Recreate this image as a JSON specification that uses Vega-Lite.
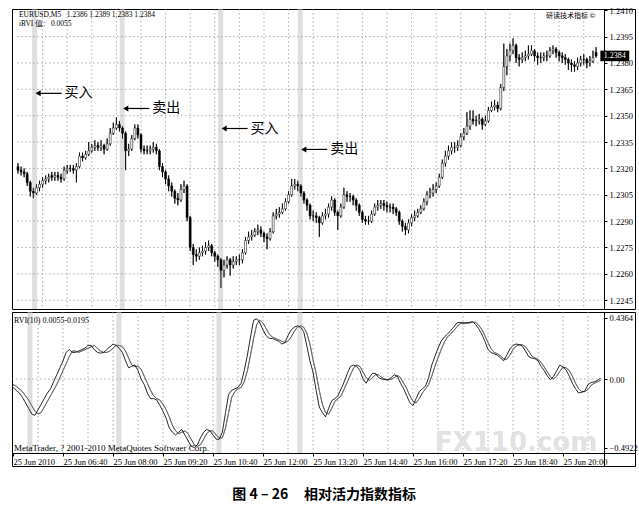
{
  "$schema": "https://vega.github.io/schema/vega-lite/v6.json",
  "padding": {"left": 10, "top": 5, "right": 4, "bottom": 4},
  "background": "white",
  "spacing": 1,
  "title": {"text": "图 4 \u2013 26\u00a0\u00a0\u00a0\u00a0\u00a0相对活力指数指标", "orient": "bottom", "anchor": "middle", "font": "Noto Sans CJK SC", "fontSize": 14, "fontWeight": "bold", "color": "black", "offset": 21},
  "config": {
    "view": {"stroke": "black", "strokeWidth": 1},
    "axis": {"labelFont": "Liberation Serif", "labelFontSize": 8.5, "labelColor": "black", "domainColor": "black", "tickColor": "black", "tickSize": 3, "labelPadding": 2, "grid": false, "labelOverlap": false}
  },
  "datasets": {
    "notes": [
      {"i": 5.4, "p": 1.23627, "label": "买入"},
      {"i": 33.9, "p": 1.23541, "label": "卖出"},
      {"i": 65.9, "p": 1.23427, "label": "买入"},
      {"i": 91.8, "p": 1.23308, "label": "卖出"}
    ],
    "pgrid": [{"p": 1.2245}, {"p": 1.2260}, {"p": 1.2275}, {"p": 1.2290}, {"p": 1.2305}, {"p": 1.2320}, {"p": 1.2335}, {"p": 1.2350}, {"p": 1.2365}, {"p": 1.2380}, {"p": 1.2395}],
    "vgrid": [{"v": 8}, {"v": 16}, {"v": 24}, {"v": 32}, {"v": 40}, {"v": 48}, {"v": 56}, {"v": 64}, {"v": 72}, {"v": 80}, {"v": 88}, {"v": 96}, {"v": 104}, {"v": 112}, {"v": 120}, {"v": 128}, {"v": 136}, {"v": 144}, {"v": 152}, {"v": 160}, {"v": 168}, {"v": 176}, {"v": 184}],
    "bars": [
      {"i": 0, "o": 1.2321, "h": 1.2323, "l": 1.2317, "c": 1.2319, "r": -0.06, "s": -0.04},
      {"i": 1, "o": 1.2319, "h": 1.2321, "l": 1.2316, "c": 1.2318, "r": -0.08, "s": -0.05},
      {"i": 2, "o": 1.2318, "h": 1.2320, "l": 1.2315, "c": 1.2317, "r": -0.10, "s": -0.07},
      {"i": 3, "o": 1.2317, "h": 1.2318, "l": 1.2310, "c": 1.2312, "r": -0.13, "s": -0.09},
      {"i": 4, "o": 1.2312, "h": 1.2313, "l": 1.2304, "c": 1.2307, "r": -0.17, "s": -0.12},
      {"i": 5, "o": 1.2307, "h": 1.2309, "l": 1.2303, "c": 1.2306, "r": -0.21, "s": -0.15},
      {"i": 6, "o": 1.2306, "h": 1.2311, "l": 1.2305, "c": 1.2309, "r": -0.25, "s": -0.19},
      {"i": 7, "o": 1.2309, "h": 1.2313, "l": 1.2307, "c": 1.2311, "r": -0.26, "s": -0.23},
      {"i": 8, "o": 1.2311, "h": 1.2315, "l": 1.2309, "c": 1.2313, "r": -0.22, "s": -0.25},
      {"i": 9, "o": 1.2313, "h": 1.2316, "l": 1.2311, "c": 1.2314, "r": -0.18, "s": -0.24},
      {"i": 10, "o": 1.2314, "h": 1.2317, "l": 1.2312, "c": 1.2315, "r": -0.14, "s": -0.20},
      {"i": 11, "o": 1.2316, "h": 1.2318, "l": 1.2313, "c": 1.2315, "r": -0.10, "s": -0.16},
      {"i": 12, "o": 1.2315, "h": 1.2318, "l": 1.2313, "c": 1.2316, "r": -0.07, "s": -0.12},
      {"i": 13, "o": 1.2316, "h": 1.2318, "l": 1.2313, "c": 1.2315, "r": -0.02, "s": -0.08},
      {"i": 14, "o": 1.2315, "h": 1.2317, "l": 1.2312, "c": 1.2314, "r": 0.03, "s": -0.04},
      {"i": 15, "o": 1.2314, "h": 1.2321, "l": 1.2313, "c": 1.2319, "r": 0.08, "s": 0.01},
      {"i": 16, "o": 1.2319, "h": 1.2322, "l": 1.2317, "c": 1.2320, "r": 0.13, "s": 0.06},
      {"i": 17, "o": 1.2320, "h": 1.2322, "l": 1.2318, "c": 1.2320, "r": 0.19, "s": 0.11},
      {"i": 18, "o": 1.2320, "h": 1.2322, "l": 1.2317, "c": 1.2319, "r": 0.21, "s": 0.16},
      {"i": 19, "o": 1.2319, "h": 1.2323, "l": 1.2312, "c": 1.2321, "r": 0.19, "s": 0.20},
      {"i": 20, "o": 1.2321, "h": 1.2329, "l": 1.2320, "c": 1.2327, "r": 0.19, "s": 0.20},
      {"i": 21, "o": 1.2327, "h": 1.2329, "l": 1.2324, "c": 1.2326, "r": 0.20, "s": 0.19},
      {"i": 22, "o": 1.2326, "h": 1.2330, "l": 1.2325, "c": 1.2328, "r": 0.21, "s": 0.20},
      {"i": 23, "o": 1.2328, "h": 1.2335, "l": 1.2327, "c": 1.2330, "r": 0.22, "s": 0.21},
      {"i": 24, "o": 1.2330, "h": 1.2334, "l": 1.2329, "c": 1.2332, "r": 0.24, "s": 0.22},
      {"i": 25, "o": 1.2332, "h": 1.2336, "l": 1.2330, "c": 1.2333, "r": 0.24, "s": 0.23},
      {"i": 26, "o": 1.2333, "h": 1.2335, "l": 1.2330, "c": 1.2332, "r": 0.21, "s": 0.24},
      {"i": 27, "o": 1.2332, "h": 1.2336, "l": 1.2330, "c": 1.2333, "r": 0.19, "s": 0.22},
      {"i": 28, "o": 1.2333, "h": 1.2334, "l": 1.2328, "c": 1.2331, "r": 0.185, "s": 0.20},
      {"i": 29, "o": 1.2331, "h": 1.2337, "l": 1.2330, "c": 1.2334, "r": 0.19, "s": 0.19},
      {"i": 30, "o": 1.2334, "h": 1.2343, "l": 1.2333, "c": 1.2340, "r": 0.21, "s": 0.19},
      {"i": 31, "o": 1.2340, "h": 1.2346, "l": 1.2339, "c": 1.2343, "r": 0.23, "s": 0.20},
      {"i": 32, "o": 1.2343, "h": 1.2349, "l": 1.2342, "c": 1.2345, "r": 0.25, "s": 0.22},
      {"i": 33, "o": 1.2345, "h": 1.2347, "l": 1.2341, "c": 1.2343, "r": 0.24, "s": 0.24},
      {"i": 34, "o": 1.2343, "h": 1.2344, "l": 1.2337, "c": 1.2340, "r": 0.22, "s": 0.24},
      {"i": 35, "o": 1.2340, "h": 1.2341, "l": 1.2319, "c": 1.2330, "r": 0.19, "s": 0.23},
      {"i": 36, "o": 1.2330, "h": 1.2334, "l": 1.2327, "c": 1.2331, "r": 0.13, "s": 0.20},
      {"i": 37, "o": 1.2331, "h": 1.2339, "l": 1.2330, "c": 1.2337, "r": 0.08, "s": 0.15},
      {"i": 38, "o": 1.2337, "h": 1.2345, "l": 1.2336, "c": 1.2343, "r": 0.09, "s": 0.10},
      {"i": 39, "o": 1.2343, "h": 1.2345, "l": 1.2337, "c": 1.2339, "r": 0.10, "s": 0.09},
      {"i": 40, "o": 1.2339, "h": 1.2340, "l": 1.2329, "c": 1.2331, "r": 0.06, "s": 0.09},
      {"i": 41, "o": 1.2331, "h": 1.2333, "l": 1.2328, "c": 1.2330, "r": 0.00, "s": 0.07},
      {"i": 42, "o": 1.2330, "h": 1.2333, "l": 1.2328, "c": 1.2330, "r": -0.04, "s": 0.02},
      {"i": 43, "o": 1.2330, "h": 1.2333, "l": 1.2328, "c": 1.2331, "r": -0.10, "s": -0.03},
      {"i": 44, "o": 1.2331, "h": 1.2335, "l": 1.2329, "c": 1.2332, "r": -0.14, "s": -0.08},
      {"i": 45, "o": 1.2332, "h": 1.2334, "l": 1.2328, "c": 1.2330, "r": -0.14, "s": -0.12},
      {"i": 46, "o": 1.2330, "h": 1.2331, "l": 1.2319, "c": 1.2321, "r": -0.15, "s": -0.14},
      {"i": 47, "o": 1.2321, "h": 1.2323, "l": 1.2315, "c": 1.2318, "r": -0.19, "s": -0.15},
      {"i": 48, "o": 1.2318, "h": 1.2319, "l": 1.2311, "c": 1.2314, "r": -0.23, "s": -0.18},
      {"i": 49, "o": 1.2314, "h": 1.2316, "l": 1.2307, "c": 1.2310, "r": -0.28, "s": -0.22},
      {"i": 50, "o": 1.2310, "h": 1.2312, "l": 1.2304, "c": 1.2307, "r": -0.35, "s": -0.27},
      {"i": 51, "o": 1.2307, "h": 1.2308, "l": 1.2300, "c": 1.2303, "r": -0.38, "s": -0.33},
      {"i": 52, "o": 1.2303, "h": 1.2306, "l": 1.2299, "c": 1.2302, "r": -0.40, "s": -0.37},
      {"i": 53, "o": 1.2302, "h": 1.2311, "l": 1.2301, "c": 1.2308, "r": -0.38, "s": -0.39},
      {"i": 54, "o": 1.2308, "h": 1.2313, "l": 1.2306, "c": 1.2310, "r": -0.36, "s": -0.38},
      {"i": 55, "o": 1.2310, "h": 1.2311, "l": 1.2290, "c": 1.2292, "r": -0.40, "s": -0.37},
      {"i": 56, "o": 1.2292, "h": 1.2293, "l": 1.2273, "c": 1.2275, "r": -0.44, "s": -0.39},
      {"i": 57, "o": 1.2275, "h": 1.2277, "l": 1.2265, "c": 1.2271, "r": -0.48, "s": -0.43},
      {"i": 58, "o": 1.2271, "h": 1.2274, "l": 1.2267, "c": 1.2270, "r": -0.49, "s": -0.47},
      {"i": 59, "o": 1.2270, "h": 1.2275, "l": 1.2268, "c": 1.2272, "r": -0.47, "s": -0.48},
      {"i": 60, "o": 1.2272, "h": 1.2276, "l": 1.2270, "c": 1.2273, "r": -0.42, "s": -0.47},
      {"i": 61, "o": 1.2273, "h": 1.2278, "l": 1.2271, "c": 1.2275, "r": -0.38, "s": -0.43},
      {"i": 62, "o": 1.2275, "h": 1.2279, "l": 1.2273, "c": 1.2276, "r": -0.36, "s": -0.39},
      {"i": 63, "o": 1.2276, "h": 1.2277, "l": 1.2270, "c": 1.2272, "r": -0.37, "s": -0.37},
      {"i": 64, "o": 1.2272, "h": 1.2273, "l": 1.2267, "c": 1.2270, "r": -0.40, "s": -0.37},
      {"i": 65, "o": 1.2270, "h": 1.2271, "l": 1.2264, "c": 1.2268, "r": -0.43, "s": -0.40},
      {"i": 66, "o": 1.2268, "h": 1.2269, "l": 1.2252, "c": 1.2262, "r": -0.43, "s": -0.42},
      {"i": 67, "o": 1.2262, "h": 1.2268, "l": 1.2258, "c": 1.2265, "r": -0.38, "s": -0.42},
      {"i": 68, "o": 1.2265, "h": 1.2270, "l": 1.2263, "c": 1.2268, "r": -0.24, "s": -0.35},
      {"i": 69, "o": 1.2268, "h": 1.2269, "l": 1.2259, "c": 1.2265, "r": -0.11, "s": -0.24},
      {"i": 70, "o": 1.2265, "h": 1.2270, "l": 1.2263, "c": 1.2267, "r": -0.08, "s": -0.13},
      {"i": 71, "o": 1.2267, "h": 1.2270, "l": 1.2265, "c": 1.2268, "r": -0.07, "s": -0.09},
      {"i": 72, "o": 1.2268, "h": 1.2271, "l": 1.2265, "c": 1.2268, "r": -0.06, "s": -0.07},
      {"i": 73, "o": 1.2268, "h": 1.2274, "l": 1.2266, "c": 1.2272, "r": -0.03, "s": -0.06},
      {"i": 74, "o": 1.2272, "h": 1.2281, "l": 1.2271, "c": 1.2279, "r": 0.06, "s": -0.02},
      {"i": 75, "o": 1.2279, "h": 1.2284, "l": 1.2277, "c": 1.2281, "r": 0.17, "s": 0.06},
      {"i": 76, "o": 1.2281, "h": 1.2285, "l": 1.2279, "c": 1.2282, "r": 0.30, "s": 0.17},
      {"i": 77, "o": 1.2282, "h": 1.2286, "l": 1.2281, "c": 1.2284, "r": 0.42, "s": 0.29},
      {"i": 78, "o": 1.2284, "h": 1.2288, "l": 1.2282, "c": 1.2285, "r": 0.43, "s": 0.39},
      {"i": 79, "o": 1.2285, "h": 1.2287, "l": 1.2281, "c": 1.2283, "r": 0.40, "s": 0.42},
      {"i": 80, "o": 1.2283, "h": 1.2284, "l": 1.2278, "c": 1.2281, "r": 0.35, "s": 0.40},
      {"i": 81, "o": 1.2281, "h": 1.2283, "l": 1.2274, "c": 1.2280, "r": 0.31, "s": 0.36},
      {"i": 82, "o": 1.2280, "h": 1.2286, "l": 1.2279, "c": 1.2284, "r": 0.29, "s": 0.32},
      {"i": 83, "o": 1.2284, "h": 1.2295, "l": 1.2283, "c": 1.2293, "r": 0.29, "s": 0.30},
      {"i": 84, "o": 1.2293, "h": 1.2297, "l": 1.2291, "c": 1.2294, "r": 0.28, "s": 0.29},
      {"i": 85, "o": 1.2294, "h": 1.2298, "l": 1.2292, "c": 1.2295, "r": 0.27, "s": 0.28},
      {"i": 86, "o": 1.2295, "h": 1.2300, "l": 1.2294, "c": 1.2297, "r": 0.25, "s": 0.27},
      {"i": 87, "o": 1.2297, "h": 1.2303, "l": 1.2296, "c": 1.2301, "r": 0.26, "s": 0.26},
      {"i": 88, "o": 1.2301, "h": 1.2307, "l": 1.2300, "c": 1.2305, "r": 0.31, "s": 0.27},
      {"i": 89, "o": 1.2305, "h": 1.2314, "l": 1.2304, "c": 1.2310, "r": 0.35, "s": 0.30},
      {"i": 90, "o": 1.2310, "h": 1.2314, "l": 1.2308, "c": 1.2311, "r": 0.37, "s": 0.34},
      {"i": 91, "o": 1.2311, "h": 1.2313, "l": 1.2307, "c": 1.2310, "r": 0.38, "s": 0.37},
      {"i": 92, "o": 1.2310, "h": 1.2311, "l": 1.2304, "c": 1.2306, "r": 0.37, "s": 0.38},
      {"i": 93, "o": 1.2306, "h": 1.2307, "l": 1.2300, "c": 1.2302, "r": 0.34, "s": 0.37},
      {"i": 94, "o": 1.2302, "h": 1.2303, "l": 1.2296, "c": 1.2299, "r": 0.24, "s": 0.33},
      {"i": 95, "o": 1.2299, "h": 1.2300, "l": 1.2291, "c": 1.2293, "r": 0.13, "s": 0.25},
      {"i": 96, "o": 1.2293, "h": 1.2296, "l": 1.2290, "c": 1.2293, "r": 0.05, "s": 0.14},
      {"i": 97, "o": 1.2293, "h": 1.2295, "l": 1.2289, "c": 1.2292, "r": -0.08, "s": 0.04},
      {"i": 98, "o": 1.2292, "h": 1.2293, "l": 1.2281, "c": 1.2289, "r": -0.20, "s": -0.08},
      {"i": 99, "o": 1.2289, "h": 1.2295, "l": 1.2288, "c": 1.2293, "r": -0.24, "s": -0.18},
      {"i": 100, "o": 1.2293, "h": 1.2297, "l": 1.2291, "c": 1.2294, "r": -0.27, "s": -0.24},
      {"i": 101, "o": 1.2294, "h": 1.2300, "l": 1.2292, "c": 1.2298, "r": -0.21, "s": -0.25},
      {"i": 102, "o": 1.2298, "h": 1.2304, "l": 1.2296, "c": 1.2302, "r": -0.155, "s": -0.21},
      {"i": 103, "o": 1.2302, "h": 1.2303, "l": 1.2293, "c": 1.2295, "r": -0.14, "s": -0.16},
      {"i": 104, "o": 1.2295, "h": 1.2296, "l": 1.2285, "c": 1.2293, "r": -0.12, "s": -0.14},
      {"i": 105, "o": 1.2293, "h": 1.2300, "l": 1.2292, "c": 1.2298, "r": -0.07, "s": -0.12},
      {"i": 106, "o": 1.2298, "h": 1.2309, "l": 1.2297, "c": 1.2305, "r": -0.02, "s": -0.07},
      {"i": 107, "o": 1.2305, "h": 1.2307, "l": 1.2301, "c": 1.2304, "r": 0.04, "s": -0.02},
      {"i": 108, "o": 1.2304, "h": 1.2306, "l": 1.2301, "c": 1.2304, "r": 0.09, "s": 0.03},
      {"i": 109, "o": 1.2304, "h": 1.2305, "l": 1.2299, "c": 1.2302, "r": 0.10, "s": 0.08},
      {"i": 110, "o": 1.2302, "h": 1.2303, "l": 1.2296, "c": 1.2299, "r": 0.09, "s": 0.10},
      {"i": 111, "o": 1.2299, "h": 1.2300, "l": 1.2293, "c": 1.2295, "r": 0.06, "s": 0.09},
      {"i": 112, "o": 1.2295, "h": 1.2296, "l": 1.2289, "c": 1.2291, "r": 0.00, "s": 0.05},
      {"i": 113, "o": 1.2291, "h": 1.2293, "l": 1.2288, "c": 1.2290, "r": -0.03, "s": 0.01},
      {"i": 114, "o": 1.2290, "h": 1.2293, "l": 1.2288, "c": 1.2290, "r": 0.01, "s": -0.01},
      {"i": 115, "o": 1.2290, "h": 1.2296, "l": 1.2289, "c": 1.2294, "r": 0.04, "s": 0.01},
      {"i": 116, "o": 1.2294, "h": 1.2300, "l": 1.2293, "c": 1.2298, "r": 0.04, "s": 0.03},
      {"i": 117, "o": 1.2298, "h": 1.2302, "l": 1.2296, "c": 1.2299, "r": 0.01, "s": 0.03},
      {"i": 118, "o": 1.2299, "h": 1.2302, "l": 1.2297, "c": 1.2300, "r": 0.00, "s": 0.01},
      {"i": 119, "o": 1.2300, "h": 1.2302, "l": 1.2296, "c": 1.2299, "r": -0.005, "s": 0.00},
      {"i": 120, "o": 1.2299, "h": 1.2301, "l": 1.2295, "c": 1.2298, "r": -0.007, "s": -0.005},
      {"i": 121, "o": 1.2298, "h": 1.2300, "l": 1.2295, "c": 1.2298, "r": 0.01, "s": -0.002},
      {"i": 122, "o": 1.2298, "h": 1.2300, "l": 1.2294, "c": 1.2297, "r": 0.03, "s": 0.01},
      {"i": 123, "o": 1.2297, "h": 1.2298, "l": 1.2293, "c": 1.2295, "r": 0.02, "s": 0.025},
      {"i": 124, "o": 1.2295, "h": 1.2296, "l": 1.2288, "c": 1.2290, "r": -0.03, "s": 0.01},
      {"i": 125, "o": 1.2290, "h": 1.2291, "l": 1.2284, "c": 1.2287, "r": -0.07, "s": -0.03},
      {"i": 126, "o": 1.2287, "h": 1.2289, "l": 1.2282, "c": 1.2285, "r": -0.12, "s": -0.07},
      {"i": 127, "o": 1.2285, "h": 1.2291, "l": 1.2283, "c": 1.2289, "r": -0.17, "s": -0.12},
      {"i": 128, "o": 1.2289, "h": 1.2294, "l": 1.2287, "c": 1.2292, "r": -0.19, "s": -0.16},
      {"i": 129, "o": 1.2292, "h": 1.2296, "l": 1.2290, "c": 1.2293, "r": -0.14, "s": -0.17},
      {"i": 130, "o": 1.2293, "h": 1.2297, "l": 1.2292, "c": 1.2295, "r": -0.09, "s": -0.14},
      {"i": 131, "o": 1.2295, "h": 1.2299, "l": 1.2294, "c": 1.2297, "r": -0.07, "s": -0.10},
      {"i": 132, "o": 1.2297, "h": 1.2303, "l": 1.2296, "c": 1.2301, "r": -0.05, "s": -0.07},
      {"i": 133, "o": 1.2301, "h": 1.2307, "l": 1.2299, "c": 1.2305, "r": 0.01, "s": -0.04},
      {"i": 134, "o": 1.2305, "h": 1.2309, "l": 1.2303, "c": 1.2306, "r": 0.10, "s": 0.02},
      {"i": 135, "o": 1.2306, "h": 1.2311, "l": 1.2304, "c": 1.2308, "r": 0.16, "s": 0.09},
      {"i": 136, "o": 1.2308, "h": 1.2312, "l": 1.2306, "c": 1.2310, "r": 0.22, "s": 0.15},
      {"i": 137, "o": 1.2310, "h": 1.2317, "l": 1.2309, "c": 1.2315, "r": 0.27, "s": 0.21},
      {"i": 138, "o": 1.2315, "h": 1.2325, "l": 1.2314, "c": 1.2323, "r": 0.30, "s": 0.26},
      {"i": 139, "o": 1.2323, "h": 1.2330, "l": 1.2321, "c": 1.2327, "r": 0.32, "s": 0.30},
      {"i": 140, "o": 1.2327, "h": 1.2333, "l": 1.2325, "c": 1.2330, "r": 0.345, "s": 0.32},
      {"i": 141, "o": 1.2330, "h": 1.2335, "l": 1.2328, "c": 1.2332, "r": 0.37, "s": 0.345},
      {"i": 142, "o": 1.2332, "h": 1.2335, "l": 1.2329, "c": 1.2332, "r": 0.40, "s": 0.37},
      {"i": 143, "o": 1.2332, "h": 1.2336, "l": 1.2330, "c": 1.2333, "r": 0.405, "s": 0.395},
      {"i": 144, "o": 1.2333, "h": 1.2340, "l": 1.2332, "c": 1.2338, "r": 0.40, "s": 0.40},
      {"i": 145, "o": 1.2338, "h": 1.2343, "l": 1.2336, "c": 1.2340, "r": 0.40, "s": 0.40},
      {"i": 146, "o": 1.2340, "h": 1.2352, "l": 1.2339, "c": 1.2344, "r": 0.405, "s": 0.40},
      {"i": 147, "o": 1.2344, "h": 1.2353, "l": 1.2342, "c": 1.2348, "r": 0.41, "s": 0.405},
      {"i": 148, "o": 1.2348, "h": 1.2353, "l": 1.2345, "c": 1.2347, "r": 0.39, "s": 0.405},
      {"i": 149, "o": 1.2347, "h": 1.2350, "l": 1.2344, "c": 1.2347, "r": 0.36, "s": 0.385},
      {"i": 150, "o": 1.2347, "h": 1.2351, "l": 1.2345, "c": 1.2348, "r": 0.32, "s": 0.355},
      {"i": 151, "o": 1.2348, "h": 1.2349, "l": 1.2342, "c": 1.2345, "r": 0.27, "s": 0.31},
      {"i": 152, "o": 1.2345, "h": 1.2350, "l": 1.2344, "c": 1.2347, "r": 0.21, "s": 0.26},
      {"i": 153, "o": 1.2347, "h": 1.2355, "l": 1.2346, "c": 1.2353, "r": 0.19, "s": 0.215},
      {"i": 154, "o": 1.2353, "h": 1.2358, "l": 1.2352, "c": 1.2355, "r": 0.18, "s": 0.19},
      {"i": 155, "o": 1.2355, "h": 1.2359, "l": 1.2353, "c": 1.2356, "r": 0.17, "s": 0.18},
      {"i": 156, "o": 1.2356, "h": 1.2358, "l": 1.2352, "c": 1.2354, "r": 0.15, "s": 0.165},
      {"i": 157, "o": 1.2354, "h": 1.2368, "l": 1.2353, "c": 1.2366, "r": 0.13, "s": 0.145},
      {"i": 158, "o": 1.2366, "h": 1.2391, "l": 1.2364, "c": 1.2378, "r": 0.17, "s": 0.14},
      {"i": 159, "o": 1.2378, "h": 1.2388, "l": 1.2373, "c": 1.2384, "r": 0.215, "s": 0.17},
      {"i": 160, "o": 1.2384, "h": 1.2391, "l": 1.2381, "c": 1.2387, "r": 0.24, "s": 0.21},
      {"i": 161, "o": 1.2387, "h": 1.2394, "l": 1.2385, "c": 1.2390, "r": 0.25, "s": 0.235},
      {"i": 162, "o": 1.2390, "h": 1.2391, "l": 1.2380, "c": 1.2383, "r": 0.245, "s": 0.245},
      {"i": 163, "o": 1.2383, "h": 1.2385, "l": 1.2378, "c": 1.2382, "r": 0.235, "s": 0.245},
      {"i": 164, "o": 1.2382, "h": 1.2386, "l": 1.2380, "c": 1.2383, "r": 0.20, "s": 0.23},
      {"i": 165, "o": 1.2383, "h": 1.2387, "l": 1.2381, "c": 1.2384, "r": 0.16, "s": 0.20},
      {"i": 166, "o": 1.2384, "h": 1.2390, "l": 1.2382, "c": 1.2385, "r": 0.15, "s": 0.165},
      {"i": 167, "o": 1.2385, "h": 1.2390, "l": 1.2384, "c": 1.2387, "r": 0.145, "s": 0.15},
      {"i": 168, "o": 1.2387, "h": 1.2388, "l": 1.2381, "c": 1.2384, "r": 0.13, "s": 0.14},
      {"i": 169, "o": 1.2384, "h": 1.2386, "l": 1.2379, "c": 1.2383, "r": 0.09, "s": 0.12},
      {"i": 170, "o": 1.2383, "h": 1.2386, "l": 1.2380, "c": 1.2383, "r": 0.06, "s": 0.085},
      {"i": 171, "o": 1.2383, "h": 1.2386, "l": 1.2381, "c": 1.2384, "r": 0.02, "s": 0.05},
      {"i": 172, "o": 1.2384, "h": 1.2387, "l": 1.2381, "c": 1.2384, "r": -0.005, "s": 0.015},
      {"i": 173, "o": 1.2384, "h": 1.2389, "l": 1.2383, "c": 1.2387, "r": 0.02, "s": 0.00},
      {"i": 174, "o": 1.2387, "h": 1.2390, "l": 1.2385, "c": 1.2388, "r": 0.06, "s": 0.02},
      {"i": 175, "o": 1.2388, "h": 1.2389, "l": 1.2383, "c": 1.2386, "r": 0.10, "s": 0.055},
      {"i": 176, "o": 1.2386, "h": 1.2387, "l": 1.2381, "c": 1.2384, "r": 0.085, "s": 0.085},
      {"i": 177, "o": 1.2384, "h": 1.2386, "l": 1.2380, "c": 1.2383, "r": 0.065, "s": 0.08},
      {"i": 178, "o": 1.2383, "h": 1.2385, "l": 1.2379, "c": 1.2382, "r": 0.02, "s": 0.06},
      {"i": 179, "o": 1.2382, "h": 1.2383, "l": 1.2376, "c": 1.2380, "r": -0.03, "s": 0.02},
      {"i": 180, "o": 1.2380, "h": 1.2382, "l": 1.2375, "c": 1.2379, "r": -0.07, "s": -0.03},
      {"i": 181, "o": 1.2379, "h": 1.2381, "l": 1.2375, "c": 1.2378, "r": -0.10, "s": -0.07},
      {"i": 182, "o": 1.2378, "h": 1.2383, "l": 1.2376, "c": 1.2380, "r": -0.095, "s": -0.09},
      {"i": 183, "o": 1.2380, "h": 1.2384, "l": 1.2378, "c": 1.2382, "r": -0.085, "s": -0.09},
      {"i": 184, "o": 1.2382, "h": 1.2385, "l": 1.2379, "c": 1.2382, "r": -0.04, "s": -0.075},
      {"i": 185, "o": 1.2382, "h": 1.2383, "l": 1.2377, "c": 1.2380, "r": -0.025, "s": -0.045},
      {"i": 186, "o": 1.2380, "h": 1.2384, "l": 1.2378, "c": 1.2381, "r": -0.02, "s": -0.03},
      {"i": 187, "o": 1.2381, "h": 1.2387, "l": 1.2380, "c": 1.2383, "r": -0.01, "s": -0.02},
      {"i": 188, "o": 1.2386, "h": 1.2389, "l": 1.2383, "c": 1.2384, "r": 0.0055, "s": -0.01}
    ]
  },
  "vconcat": [
    {
      "width": 623,
      "height": 300,
      "layer": [
        {
          "data": {"name": "bars"},
          "mark": {"type": "rule", "color": "black", "strokeWidth": 0.8},
          "encoding": {
            "x": {"field": "i", "type": "quantitative", "scale": {"domain": [-0.32, 199.04], "nice": false, "zero": false}, "axis": null},
            "y": {
              "field": "l", "type": "quantitative",
              "scale": {"domain": [1.224, 1.24107], "nice": false, "zero": false},
              "axis": {"orient": "right", "offset": -31, "title": null, "format": ".4f", "tickCount": 20, "labelOverlap": false, "labelBound": false, "values": [1.2245, 1.226, 1.2275, 1.229, 1.2305, 1.232, 1.2335, 1.235, 1.2365, 1.238, 1.2395, 1.241]}
            },
            "y2": {"field": "h"}
          }
        },
        {
          "data": {"name": "notes"},
          "mark": {"type": "rect", "fill": "#c4c4c4", "opacity": 0.55, "xOffset": -2.5, "x2Offset": 2.5},
          "encoding": {
            "x": {"field": "i", "type": "quantitative", "axis": null},
            "x2": {"field": "i"}
          }
        },
        {
          "data": {"name": "pgrid"},
          "mark": {"type": "rule", "color": "#8a8a8a", "strokeWidth": 0.7, "strokeDash": [1.5, 2.5]},
          "encoding": {
            "x": {"datum": -0.32, "type": "quantitative", "axis": null},
            "x2": {"datum": 189.12},
            "y": {"field": "p", "type": "quantitative"}
          }
        },
        {
          "data": {"name": "vgrid"},
          "mark": {"type": "rule", "color": "#8a8a8a", "strokeWidth": 0.7, "strokeDash": [1.5, 2.5]},
          "encoding": {
            "x": {"field": "v", "type": "quantitative", "axis": null}
          }
        },
        {
          "data": {"name": "bars"},
          "mark": {"type": "rule", "color": "black", "strokeWidth": 0.8},
          "encoding": {
            "x": {"field": "i", "type": "quantitative", "axis": null},
            "y": {"field": "l", "type": "quantitative"},
            "y2": {"field": "h"}
          }
        },
        {
          "data": {"name": "bars"},
          "mark": {"type": "bar", "size": 2, "stroke": "black", "strokeWidth": 0.5},
          "encoding": {
            "x": {"field": "i", "type": "quantitative", "axis": null},
            "y": {"field": "o", "type": "quantitative"},
            "y2": {"field": "c"},
            "fill": {"condition": {"test": "datum.c >= datum.o", "value": "white"}, "value": "black"}
          }
        },
        {
          "data": {"name": "notes"},
          "mark": {"type": "rule", "color": "black", "strokeWidth": 1.2, "xOffset": 4, "x2Offset": 27},
          "encoding": {
            "x": {"field": "i", "type": "quantitative", "axis": null},
            "x2": {"field": "i"},
            "y": {"field": "p", "type": "quantitative"}
          }
        },
        {
          "data": {"name": "notes"},
          "mark": {"type": "point", "shape": "triangle-left", "filled": true, "color": "black", "size": 36, "opacity": 1, "xOffset": 3.5},
          "encoding": {
            "x": {"field": "i", "type": "quantitative", "axis": null},
            "y": {"field": "p", "type": "quantitative"}
          }
        },
        {
          "data": {"name": "notes"},
          "mark": {"type": "text", "align": "left", "baseline": "middle", "dx": 30, "font": "Noto Sans CJK SC", "fontSize": 14, "color": "black"},
          "encoding": {
            "x": {"field": "i", "type": "quantitative", "axis": null},
            "y": {"field": "p", "type": "quantitative"},
            "text": {"field": "label"}
          }
        },
        {
          "data": {"values": [{}]},
          "mark": {"type": "text", "align": "left", "baseline": "middle", "font": "Liberation Serif", "fontSize": 7.5, "color": "black", "text": "EURUSD,M5\u00a0\u00a0\u00a01.2386 1.2389 1.2383 1.2384"},
          "encoding": {
            "x": {"datum": 0.3, "type": "quantitative", "axis": null},
            "y": {"datum": 1.24072, "type": "quantitative"}
          }
        },
        {
          "data": {"values": [{}]},
          "mark": {"type": "text", "align": "left", "baseline": "middle", "font": "Liberation Serif", "fontSize": 7.5, "color": "black", "text": "iRVI 值:\u00a0\u00a0\u00a00.0055"},
          "encoding": {
            "x": {"datum": 0.3, "type": "quantitative", "axis": null},
            "y": {"datum": 1.24022, "type": "quantitative"}
          }
        },
        {
          "data": {"values": [{}]},
          "mark": {"type": "text", "align": "right", "baseline": "middle", "font": "Noto Sans CJK SC", "fontSize": 7, "color": "black", "text": "研读技术指标 ©"},
          "encoding": {
            "x": {"datum": 187.8, "type": "quantitative", "axis": null},
            "y": {"datum": 1.24066, "type": "quantitative"}
          }
        },
        {
          "data": {"values": [{}]},
          "mark": {"type": "rect", "fill": "black"},
          "encoding": {
            "x": {"datum": 189.4, "type": "quantitative", "axis": null},
            "x2": {"datum": 198.8},
            "y": {"datum": 1.2387, "type": "quantitative"},
            "y2": {"datum": 1.2381}
          }
        },
        {
          "data": {"values": [{}]},
          "mark": {"type": "text", "align": "center", "baseline": "middle", "font": "Liberation Serif", "fontSize": 8, "color": "white", "text": "1.2384"},
          "encoding": {
            "x": {"datum": 194.1, "type": "quantitative", "axis": null},
            "y": {"datum": 1.2384, "type": "quantitative"}
          }
        }
      ]
    },
    {
      "width": 623,
      "height": 154,
      "layer": [
        {
          "data": {"name": "bars"},
          "mark": {"type": "line", "color": "#6a6a6a", "strokeWidth": 0.9},
          "encoding": {
            "x": {
              "field": "i", "type": "quantitative",
              "scale": {"domain": [-0.32, 199.04], "nice": false, "zero": false},
              "axis": {"orient": "bottom", "offset": -13, "title": null, "tickCount": 20, "labelOverlap": false, "values": [0, 16, 32, 48, 64, 80, 96, 112, 128, 144, 160, 176], "labelAlign": "left", "labelBaseline": "top", "labelPadding": 1,
                "labelExpr": "datum.value == 0 ? '25 Jun 2010' : '25 Jun ' + timeFormat(datetime(2010, 5, 25, 5, 20 + datum.value * 5), '%H:%M')"}
            },
            "y": {
              "field": "s", "type": "quantitative",
              "scale": {"domain": [-0.6214, 0.4786], "nice": false, "zero": false},
              "axis": {"orient": "right", "offset": -31, "title": null, "tickCount": 10, "labelOverlap": false, "values": [0.4364, 0, -0.4922], "labelExpr": "datum.value == 0 ? '0.00' : format(datum.value, '.4f')"}
            }
          }
        },
        {
          "data": {"name": "notes"},
          "mark": {"type": "rect", "fill": "#c4c4c4", "opacity": 0.55, "xOffset": -2.5, "x2Offset": 2.5},
          "encoding": {
            "x": {"field": "i", "type": "quantitative"},
            "x2": {"field": "i"},
            "y": {"datum": 0.4786, "type": "quantitative"},
            "y2": {"datum": -0.5286}
          }
        },
        {
          "data": {"values": [{}]},
          "mark": {"type": "rule", "color": "#8a8a8a", "strokeWidth": 0.7, "strokeDash": [1.5, 2.5]},
          "encoding": {
            "x": {"datum": -0.32, "type": "quantitative"},
            "x2": {"datum": 189.12},
            "y": {"datum": 0, "type": "quantitative"}
          }
        },
        {
          "data": {"name": "vgrid"},
          "mark": {"type": "rule", "color": "#8a8a8a", "strokeWidth": 0.7, "strokeDash": [1.5, 2.5]},
          "encoding": {
            "x": {"field": "v", "type": "quantitative"},
            "y": {"datum": 0.4786, "type": "quantitative"},
            "y2": {"datum": -0.5286}
          }
        },
        {
          "data": {"values": [{}]},
          "mark": {"type": "text", "align": "center", "baseline": "middle", "font": "DejaVu Sans", "fontSize": 26, "fontWeight": "bold", "color": "#e2e2e2", "text": "FX110.com"},
          "encoding": {
            "x": {"datum": 161, "type": "quantitative"},
            "y": {"datum": -0.46, "type": "quantitative"}
          }
        },
        {
          "data": {"name": "bars"},
          "mark": {"type": "line", "color": "#6a6a6a", "strokeWidth": 0.9},
          "encoding": {
            "x": {"field": "i", "type": "quantitative"},
            "y": {"field": "s", "type": "quantitative"}
          }
        },
        {
          "data": {"name": "bars"},
          "mark": {"type": "line", "color": "#111111", "strokeWidth": 0.9},
          "encoding": {
            "x": {"field": "i", "type": "quantitative"},
            "y": {"field": "r", "type": "quantitative"}
          }
        },
        {
          "data": {"values": [{}]},
          "mark": {"type": "text", "align": "left", "baseline": "middle", "font": "Liberation Serif", "fontSize": 8, "color": "black", "text": "RVI(10) 0.0055-0.0195"},
          "encoding": {
            "x": {"datum": 0.3, "type": "quantitative"},
            "y": {"datum": 0.414, "type": "quantitative"}
          }
        },
        {
          "data": {"values": [{}]},
          "mark": {"type": "text", "align": "left", "baseline": "middle", "font": "Liberation Serif", "fontSize": 9, "color": "black", "text": "MetaTrader, ? 2001-2010 MetaQuotes Softwaer Corp."},
          "encoding": {
            "x": {"datum": 0.3, "type": "quantitative"},
            "y": {"datum": -0.493, "type": "quantitative"}
          }
        }
      ]
    }
  ]
}
